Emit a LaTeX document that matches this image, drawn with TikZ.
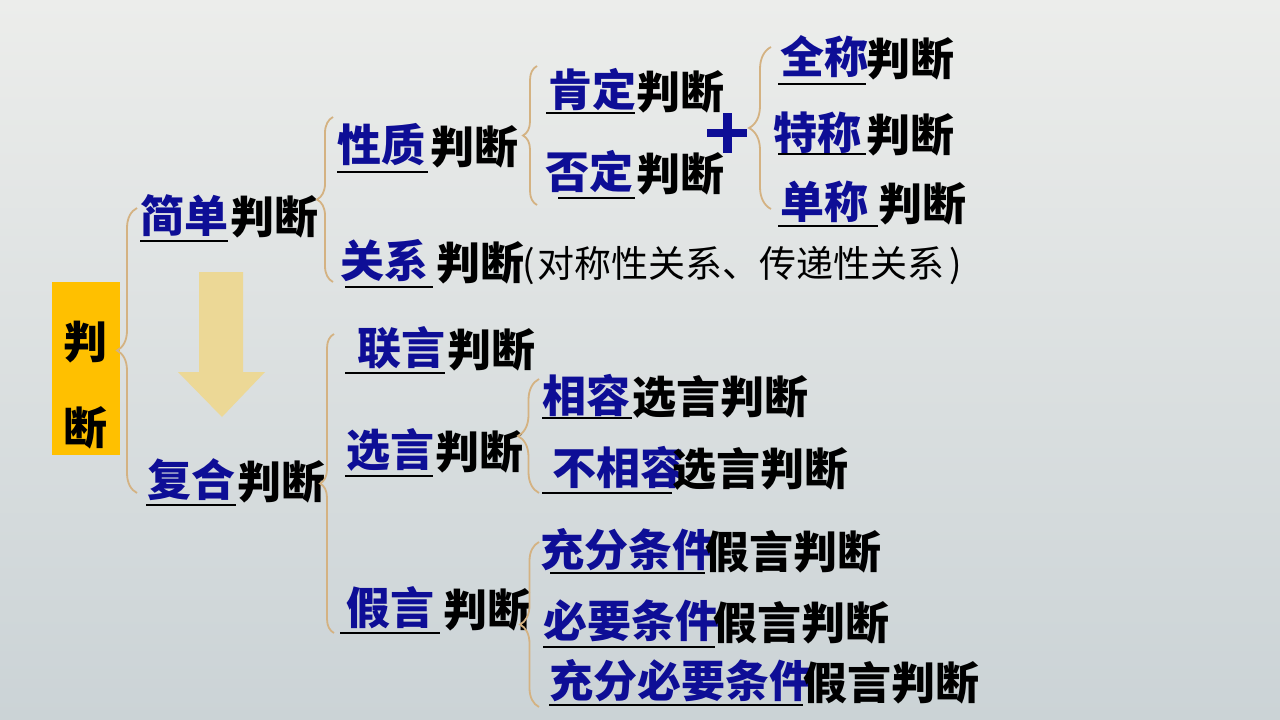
\documentclass[tikz,border=0pt]{standalone}
\usepackage{fontspec}
\newfontfamily\cjk{Noto Sans CJK SC}
\newfontfamily\cjkh{Noto Sans CJK SC Black}
\usetikzlibrary{decorations.pathreplacing}
\definecolor{navy}{RGB}{14,14,150}
\definecolor{yel}{RGB}{255,192,0}
\definecolor{tan}{RGB}{212,178,130}
\definecolor{arrowc}{RGB}{236,216,150}
\definecolor{bgtop}{RGB}{236,237,235}
\definecolor{bgbot}{RGB}{203,211,214}
\tikzset{
  txt/.style={inner sep=0pt, anchor=west, font=\cjkh\fontsize{44}{44}\selectfont},
  blu/.style={txt, text=navy},
  blk/.style={txt, text=black},
  paren/.style={inner sep=0pt, anchor=west, text=black, font=\cjk\fontsize{37}{37}\selectfont},
  ul/.style={draw=black, line width=2pt},
  br/.style={draw=tan, line width=1.8pt, decorate, decoration={brace, amplitude=#1}},
}
\begin{document}
\begin{tikzpicture}[x=1pt,y=-1pt]
\useasboundingbox (0,0) rectangle (1280,720);
\shade[top color=bgtop, bottom color=bgbot] (0,0) rectangle (1280,720);

% root box
\node[fill=yel, minimum width=68pt, minimum height=173pt, inner sep=0pt] (root) at (86,368.5) {};
\node[txt, anchor=center] (r1) at (85,342) {判};
\node[txt, anchor=center] (r2) at (85,428) {断};

% block arrow
\fill[arrowc] (199,272) -- (243,272) -- (243,372) -- (265,372) -- (222,417) -- (178,372) -- (199,372) -- cycle;

% plus sign
\fill[navy] (707,129) rectangle (747,137);
\fill[navy] (723,113) rectangle (732,153);

% level 1
\node[blu] (jd) at (140,216) {简单}; \node[blk] (jdp) at (230,217) {判断};
\node[blu] (fh) at (147,480) {复合}; \node[blk] (fhp) at (237,482) {判断};
% level 2 upper
\node[blu] (xz) at (337,145) {性质}; \node[blk] (xzp) at (430,147) {判断};
\node[blu] (gx) at (340,261) {关系}; \node[blk] (gxp) at (436,263) {判断};
\node[paren] (gxq) at (522,266) {(\hspace{3pt}对称性关系、传递性关系\hspace{5pt})};
% level 3 upper
\node[blu] (kd) at (548,90) {肯定}; \node[blk] (kdp) at (636,92) {判断};
\node[blu] (fd) at (545,172) {否定}; \node[blk] (fdp) at (636,174) {判断};
% level 4
\node[blu] (qc) at (780,57) {全称}; \node[blk] (qcp) at (866,59) {判断};
\node[blu] (tc) at (773,133) {特称}; \node[blk] (tcp) at (866,135) {判断};
\node[blu] (dc) at (780,202) {单称}; \node[blk] (dcp) at (878,204) {判断};
% level 2 lower
\node[blu] (ly) at (357,348) {联言}; \node[blk] (lyp) at (447,350) {判断};
\node[blu] (xy) at (346,450) {选言}; \node[blk] (xyp) at (435,452) {判断};
\node[blu] (jy) at (346,608) {假言}; \node[blk] (jyp) at (443,610) {判断};
% level 3 lower
\node[blu] (xr) at (542,395) {相容}; \node[blk] (xrp) at (632,397) {选言判断};
\node[blu] (bxr) at (552,467) {不相容}; \node[blk] (bxrp) at (672,469) {选言判断};
\node[blu] (cf) at (540,550) {充分条件}; \node[blk] (cfp) at (705,552) {假言判断};
\node[blu] (by) at (543,621) {必要条件}; \node[blk] (byp) at (713,623) {假言判断};
\node[blu] (cb) at (549,681) {充分必要条件}; \node[blk] (cbp) at (803,683) {假言判断};

% underlines
\draw[ul] (140,241) -- (228,241);
\draw[ul] (146,505) -- (236,505);
\draw[ul] (337,172) -- (428,172);
\draw[ul] (345,287) -- (433,287);
\draw[ul] (546,113) -- (635,113);
\draw[ul] (558,198) -- (635,198);
\draw[ul] (778,84) -- (866,84);
\draw[ul] (778,154) -- (866,154);
\draw[ul] (778,226) -- (878,226);
\draw[ul] (345,373) -- (445,373);
\draw[ul] (345,476) -- (433,476);
\draw[ul] (542,418) -- (632,418);
\draw[ul] (542,493) -- (672,493);
\draw[ul] (340,633) -- (440,633);
\draw[ul] (550,573) -- (705,573);
\draw[ul] (543,647) -- (715,647);
\draw[ul] (549,705) -- (803,705);

% brace end points
\coordinate (b1t) at (137,208); \coordinate (b1b) at (137,493);
\coordinate (b2t) at (333,117); \coordinate (b2b) at (333,282);
\coordinate (b3t) at (537,66);  \coordinate (b3b) at (537,205);
\coordinate (b4t) at (771,47);  \coordinate (b4b) at (771,209);
\coordinate (b5t) at (334,334); \coordinate (b5b) at (334,633);
\coordinate (b6t) at (539,379); \coordinate (b6b) at (539,493);
\coordinate (b7t) at (539,542); \coordinate (b7b) at (539,707);

\draw[br=20pt] (b1b) -- (b1t);
\draw[br=16pt] (b2b) -- (b2t);
\draw[br=14pt] (b3b) -- (b3t);
\draw[br=22pt] (b4b) -- (b4t);
\draw[br=14pt] (b5b) -- (b5t);
\draw[br=21pt] (b6b) -- (b6t);
\draw[br=19pt] (b7b) -- (b7t);
\end{tikzpicture}
\end{document}
